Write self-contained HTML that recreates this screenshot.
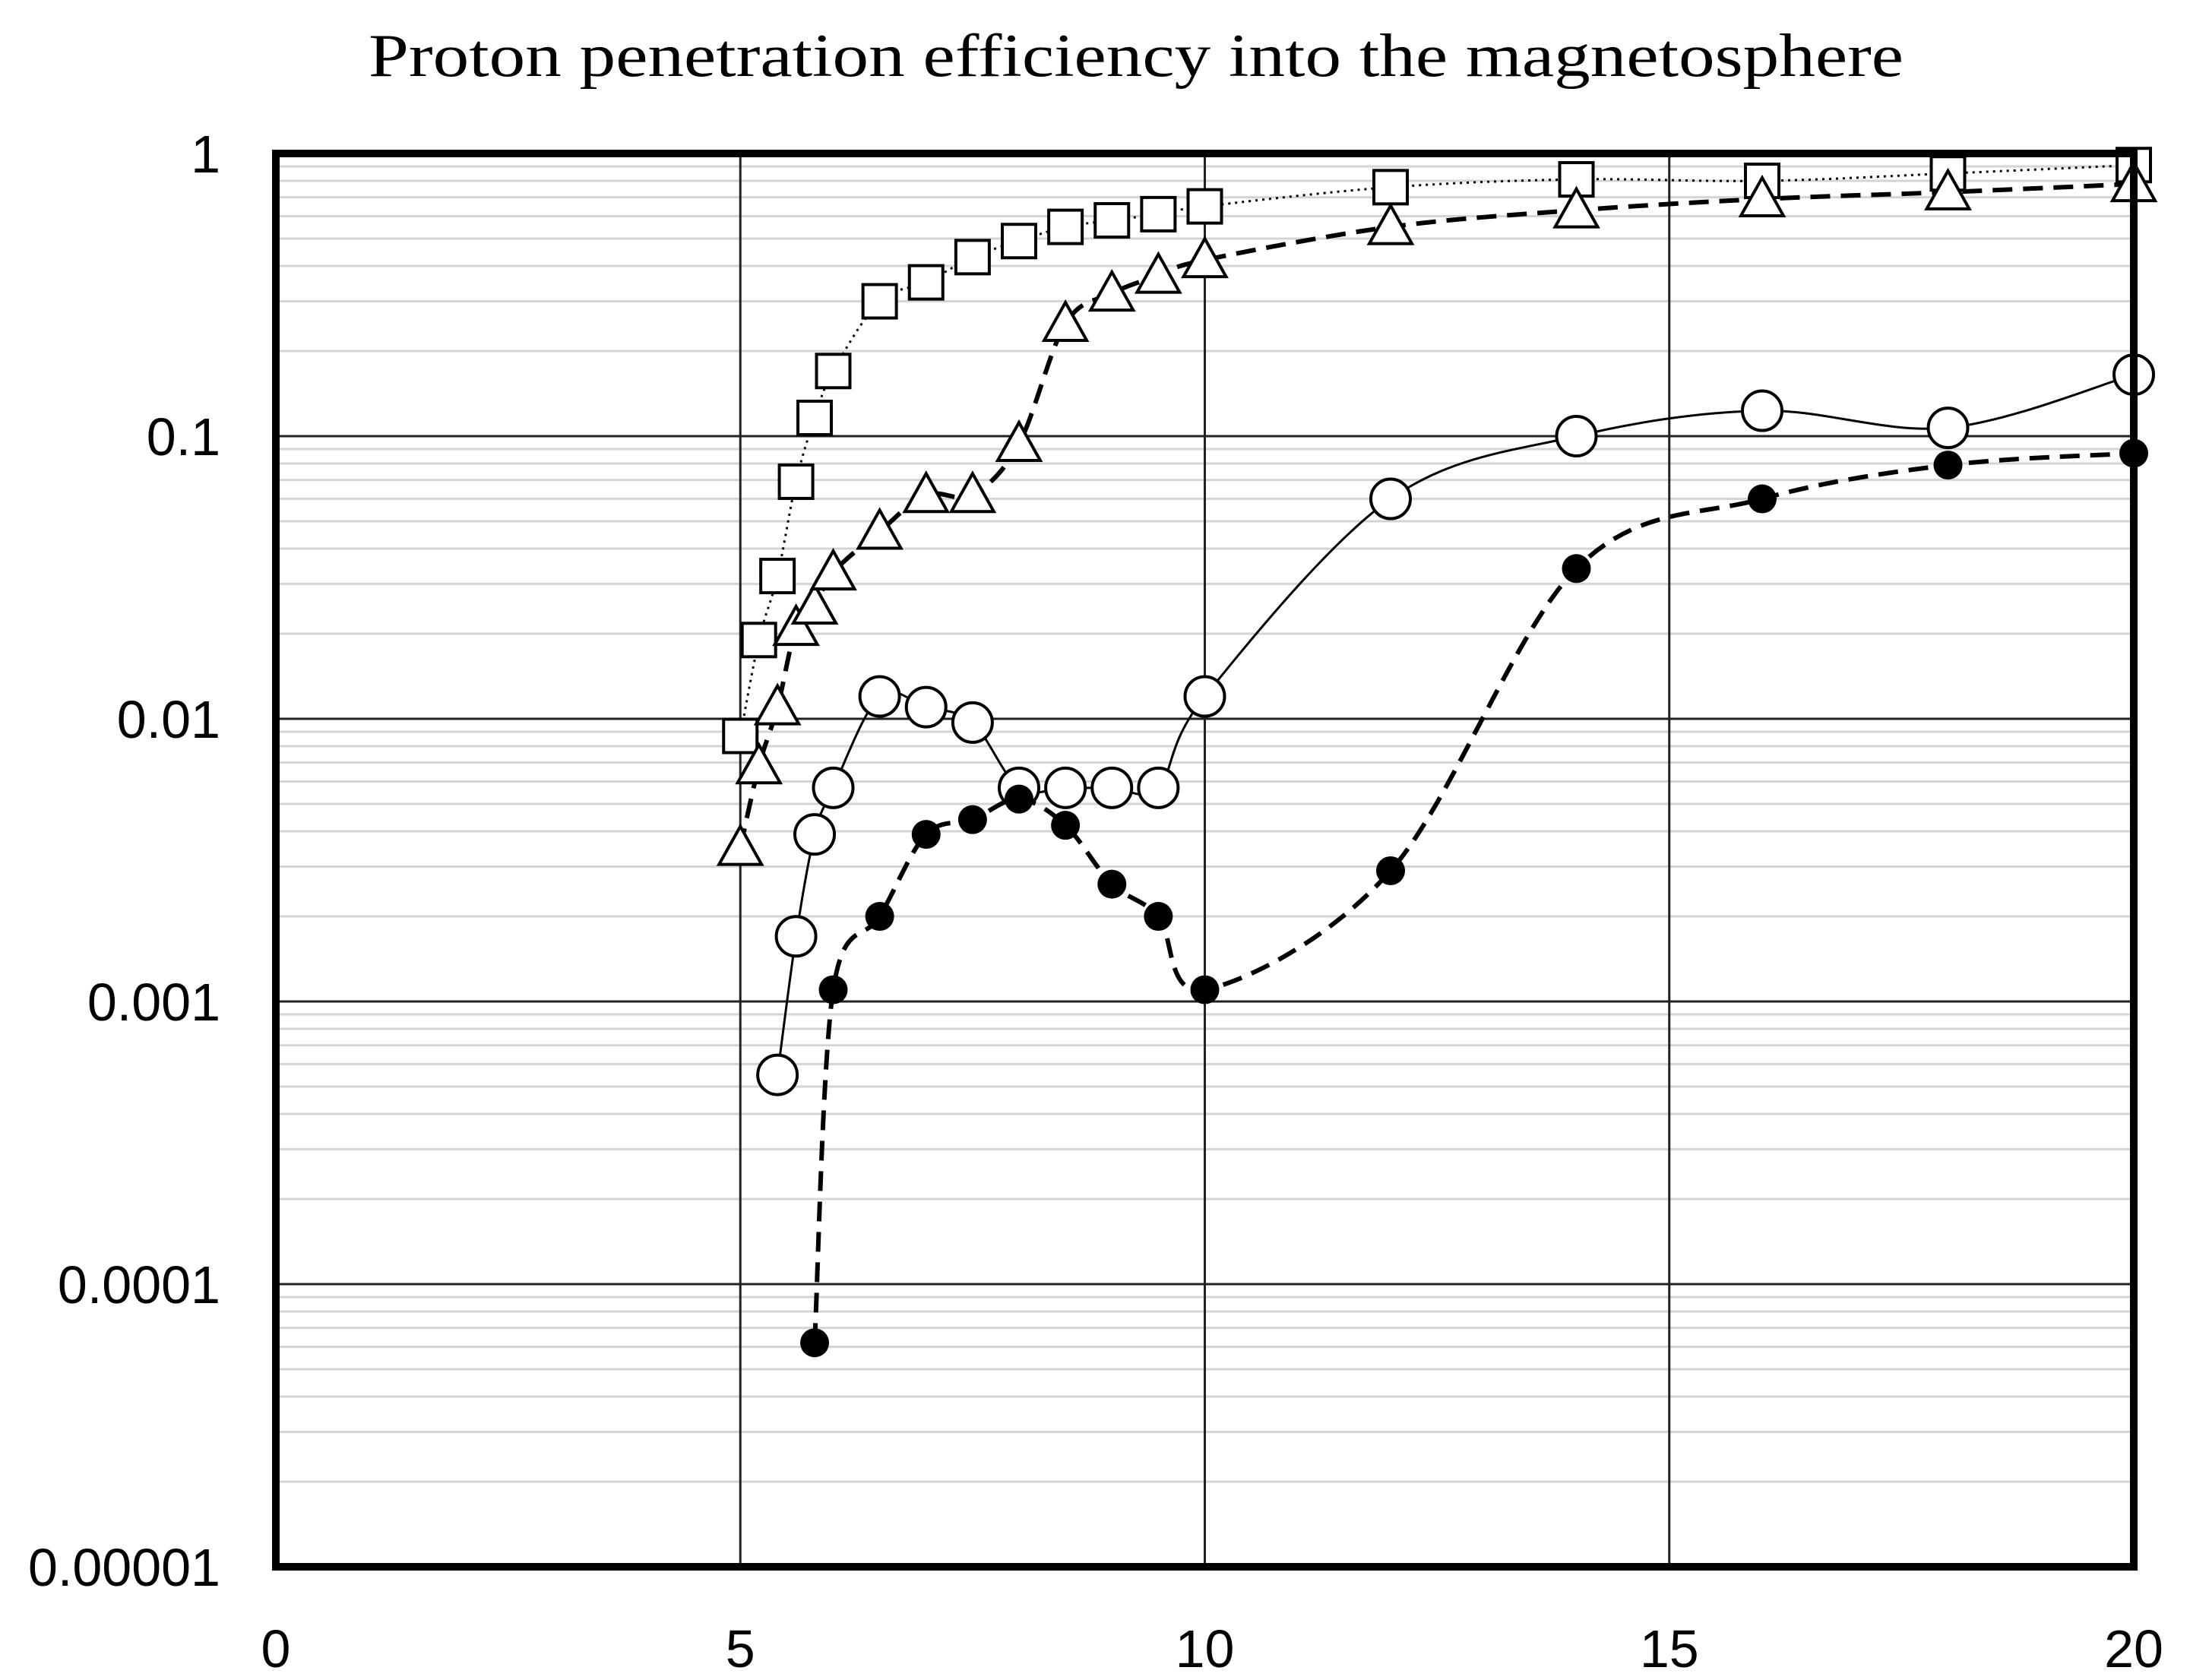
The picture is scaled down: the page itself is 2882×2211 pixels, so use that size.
<!DOCTYPE html>
<html><head><meta charset="utf-8"><style>
html,body{margin:0;padding:0;background:#fff;}
svg{display:block;}
text{font-family:"Liberation Sans",sans-serif;fill:#000;}
</style></head><body>
<svg id="chart" width="2882" height="2211" viewBox="0 0 2882 2211" xmlns="http://www.w3.org/2000/svg">
<text x="1495" y="100" text-anchor="middle" style="font-family:'Liberation Serif',serif;font-size:80px" textLength="2020" lengthAdjust="spacingAndGlyphs">Proton penetration efficiency into the magnetosphere</text>
<g id="grid"></g>
<g id="series"></g>
<rect x="363" y="202" width="2445" height="1860" fill="none" stroke="#000" stroke-width="10"/>
<g id="labels"></g>
</svg>
<script>
const xTicks=[0,5,10,15,20];
const yTicks=[1,0.1,0.01,0.001,0.0001,0.00001];
const yTickLabels=["1","0.1","0.01","0.001","0.0001","0.00001"];
const squaresX=[5,5.2,5.4,5.6,5.8,6,6.5,7,7.5,8,8.5,9,9.5,10,12,14,16,18,20];
const squaresY=[0.0087,0.019,0.032,0.069,0.116,0.17,0.3,0.35,0.43,0.49,0.55,0.58,0.61,0.65,0.76,0.81,0.8,0.85,0.91];
const trianglesX=[5,5.2,5.4,5.6,5.8,6,6.5,7,7.5,8,8.5,9,9.5,10,12,14,16,18,20];
const trianglesY=[0.0035,0.0068,0.011,0.021,0.025,0.033,0.046,0.062,0.062,0.094,0.25,0.32,0.37,0.42,0.55,0.63,0.69,0.73,0.78];
const openX=[5.4,5.6,5.8,6,6.5,7,7.5,8,8.5,9,9.5,10,12,14,16,18,20];
const openY=[0.00055,0.0017,0.0039,0.0057,0.012,0.011,0.0097,0.0057,0.0057,0.0057,0.0057,0.012,0.06,0.1,0.123,0.107,0.165];
const filledX=[5.8,6,6.5,7,7.5,8,8.5,9,9.5,10,12,14,16,18,20];
const filledY=[0.000062,0.0011,0.002,0.0039,0.0044,0.0052,0.0042,0.0026,0.002,0.0011,0.0029,0.034,0.06,0.079,0.087];

const NS="http://www.w3.org/2000/svg";
const L=363,R=2808,T=202,B=2062;
const sx=v=>L+(v-0)/20*(R-L);
const sy=v=>T+(-Math.log10(v))/5*(B-T);
function mk(tag,attrs,parent){const e=document.createElementNS(NS,tag);for(const k in attrs)e.setAttribute(k,attrs[k]);parent.appendChild(e);return e;}
const grid=document.getElementById('grid');
for(let d=0;d<5;d++){for(let m=2;m<=9;m++){const v=Math.pow(10,-d-1)*m;
const ln=mk('line',{x1:L,x2:R,y1:sy(v),y2:sy(v),stroke:'#d4d4d4','stroke-width':3},grid);

}}
yTicks.forEach(v=>{const ln=mk('line',{x1:L,x2:R,y1:sy(v),y2:sy(v),stroke:'#222','stroke-width':3},grid);

});
xTicks.forEach(v=>{const ln=mk('line',{x1:sx(v),x2:sx(v),y1:T,y2:B,stroke:'#222','stroke-width':3},grid);

});
const labels=document.getElementById('labels');
yTicks.forEach((v,i)=>{const t=mk('text',{x:290,y:sy(v)+25,'text-anchor':'end','font-size':'70px'},labels);t.textContent=yTickLabels[i];

});
xTicks.forEach(v=>{const t=mk('text',{x:sx(v),y:2194,'text-anchor':'middle','font-size':'70px'},labels);t.textContent=String(v);

});
function smooth(xs,ys){const p=xs.map((x,i)=>[sx(x),sy(ys[i])]);let d=`M${p[0][0]},${p[0][1]}`;
for(let i=0;i<p.length-1;i++){const p0=p[i-1]||p[i],p1=p[i],p2=p[i+1],p3=p[i+2]||p2;
const c1=[p1[0]+(p2[0]-p0[0])/6,p1[1]+(p2[1]-p0[1])/6],c2=[p2[0]-(p3[0]-p1[0])/6,p2[1]-(p3[1]-p1[1])/6];
d+=` C${c1[0]},${c1[1]} ${c2[0]},${c2[1]} ${p2[0]},${p2[1]}`;}return d;}
const ser=document.getElementById('series');
function series(name,xs,ys,lineAttrs,marker){
const g=mk('g',{},ser);
const p=mk('path',Object.assign({d:smooth(xs,ys),fill:'none',stroke:'#000'},lineAttrs),g);


xs.forEach((x,i)=>{const cx=sx(x),cy=sy(ys[i]);let e;
if(marker==='square')e=mk('rect',{x:cx-22,y:cy-22,width:44,height:44,fill:'#fff',stroke:'#000','stroke-width':4},g);
else if(marker==='triangle')e=mk('polygon',{points:`${cx},${cy-28} ${cx-28},${cy+22} ${cx+28},${cy+22}`,fill:'#fff',stroke:'#000','stroke-width':4},g);
else if(marker==='open')e=mk('circle',{cx:cx,cy:cy,r:26,fill:'#fff',stroke:'#000','stroke-width':4},g);
else e=mk('circle',{cx:cx,cy:cy,r:19,fill:'#000'},g);

});}
series('series-squares',squaresX,squaresY,{'stroke-width':3,'stroke-dasharray':'3 6'},'square');
series('series-triangles',trianglesX,trianglesY,{'stroke-width':6,'stroke-dasharray':'26 14'},'triangle');
series('series-open-circles',openX,openY,{'stroke-width':3},'open');
series('series-filled-circles',filledX,filledY,{'stroke-width':6,'stroke-dasharray':'26 14'},'filled');
</script>
</body></html>
